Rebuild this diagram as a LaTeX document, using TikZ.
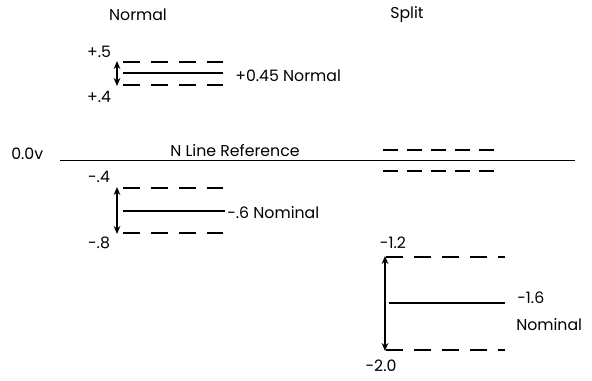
\documentclass[tikz,border=0pt]{standalone}
\usepackage{fontspec}
\setmainfont{Poppins}
\usetikzlibrary{arrows.meta}
\begin{document}
\begin{tikzpicture}[x=0.75pt,y=-0.75pt,
  lbl/.style={font=\fontsize{11.8}{13}\selectfont, inner sep=0pt},
  dash line/.style={line width=1.3pt, dash pattern=on 13 off 8},
  dash lineb/.style={line width=1.3pt, dash pattern=on 11 off 7},
  solid line/.style={line width=1.2pt},
  rangearrow/.style={line width=1.3pt, {Stealth[length=6pt,width=5pt]}-{Stealth[length=6pt,width=5pt]}}]
\useasboundingbox (0,0) rectangle (592,381);
% headings
\node[lbl] (hnormal) at (138,15) {Normal};
\node[lbl] (hsplit) at (407,15) {Split};
% top normal band
\node[lbl] (p5) at (99,52) {+.5};
\node[lbl] (p4) at (99,97) {+.4};
\coordinate (a1) at (123,62); \coordinate (a2) at (223,62);
\coordinate (b1) at (123,73); \coordinate (b2) at (223,73);
\coordinate (c1) at (123,85); \coordinate (c2) at (223,85);
\draw[dash line] (a1) -- (a2);
\draw[solid line] (b1) -- (b2);
\draw[dash line] (c1) -- (c2);
\coordinate (ar1) at (117,61); \coordinate (ar2) at (117,86);
\draw[rangearrow] (ar1) -- (ar2);
\node[lbl, anchor=west] (pn) at (235,76) {+0.45 Normal};
% reference line
\node[lbl, anchor=west] (zero) at (11,154) {0.0v};
\coordinate (r1) at (60,160.5); \coordinate (r2) at (575,160.5);
\draw[line width=1.1pt] (r1) -- (r2);
\node[lbl] (nref) at (235,151) {N Line Reference};
\coordinate (s1) at (383,150); \coordinate (s2) at (503,150);
\coordinate (t1) at (383,171); \coordinate (t2) at (503,171);
\draw[dash lineb] (s1) -- (s2);
\draw[dash lineb] (t1) -- (t2);
% lower normal band
\node[lbl] (m4) at (99,177) {-.4};
\node[lbl] (m8) at (99,243) {-.8};
\coordinate (d1) at (123,188); \coordinate (d2) at (223,188);
\coordinate (e1) at (123,211); \coordinate (e2) at (225,211);
\coordinate (f1) at (123,233); \coordinate (f2) at (223,233);
\draw[dash line] (d1) -- (d2);
\draw[solid line] (e1) -- (e2);
\draw[dash line] (f1) -- (f2);
\coordinate (br1) at (117,187); \coordinate (br2) at (117,234);
\draw[rangearrow] (br1) -- (br2);
\node[lbl, anchor=west] (m6) at (227,213) {-.6 Nominal};
% split band
\node[lbl] (m12) at (393,243) {-1.2};
\node[lbl] (m20) at (381,366) {-2.0};
\coordinate (g1) at (386,257); \coordinate (g2) at (505,257);
\coordinate (h1) at (389,303); \coordinate (h2) at (505,303);
\coordinate (k1) at (386,350); \coordinate (k2) at (505,350);
\draw[dash line] (g1) -- (g2);
\draw[solid line] (h1) -- (h2);
\draw[dash line] (k1) -- (k2);
\coordinate (cr1) at (385,256); \coordinate (cr2) at (385,351);
\draw[rangearrow] (cr1) -- (cr2);
\node[lbl, anchor=west] (m16) at (517,298) {-1.6};
\node[lbl, anchor=west] (nom) at (516,325) {Nominal};
\end{tikzpicture}
\end{document}
